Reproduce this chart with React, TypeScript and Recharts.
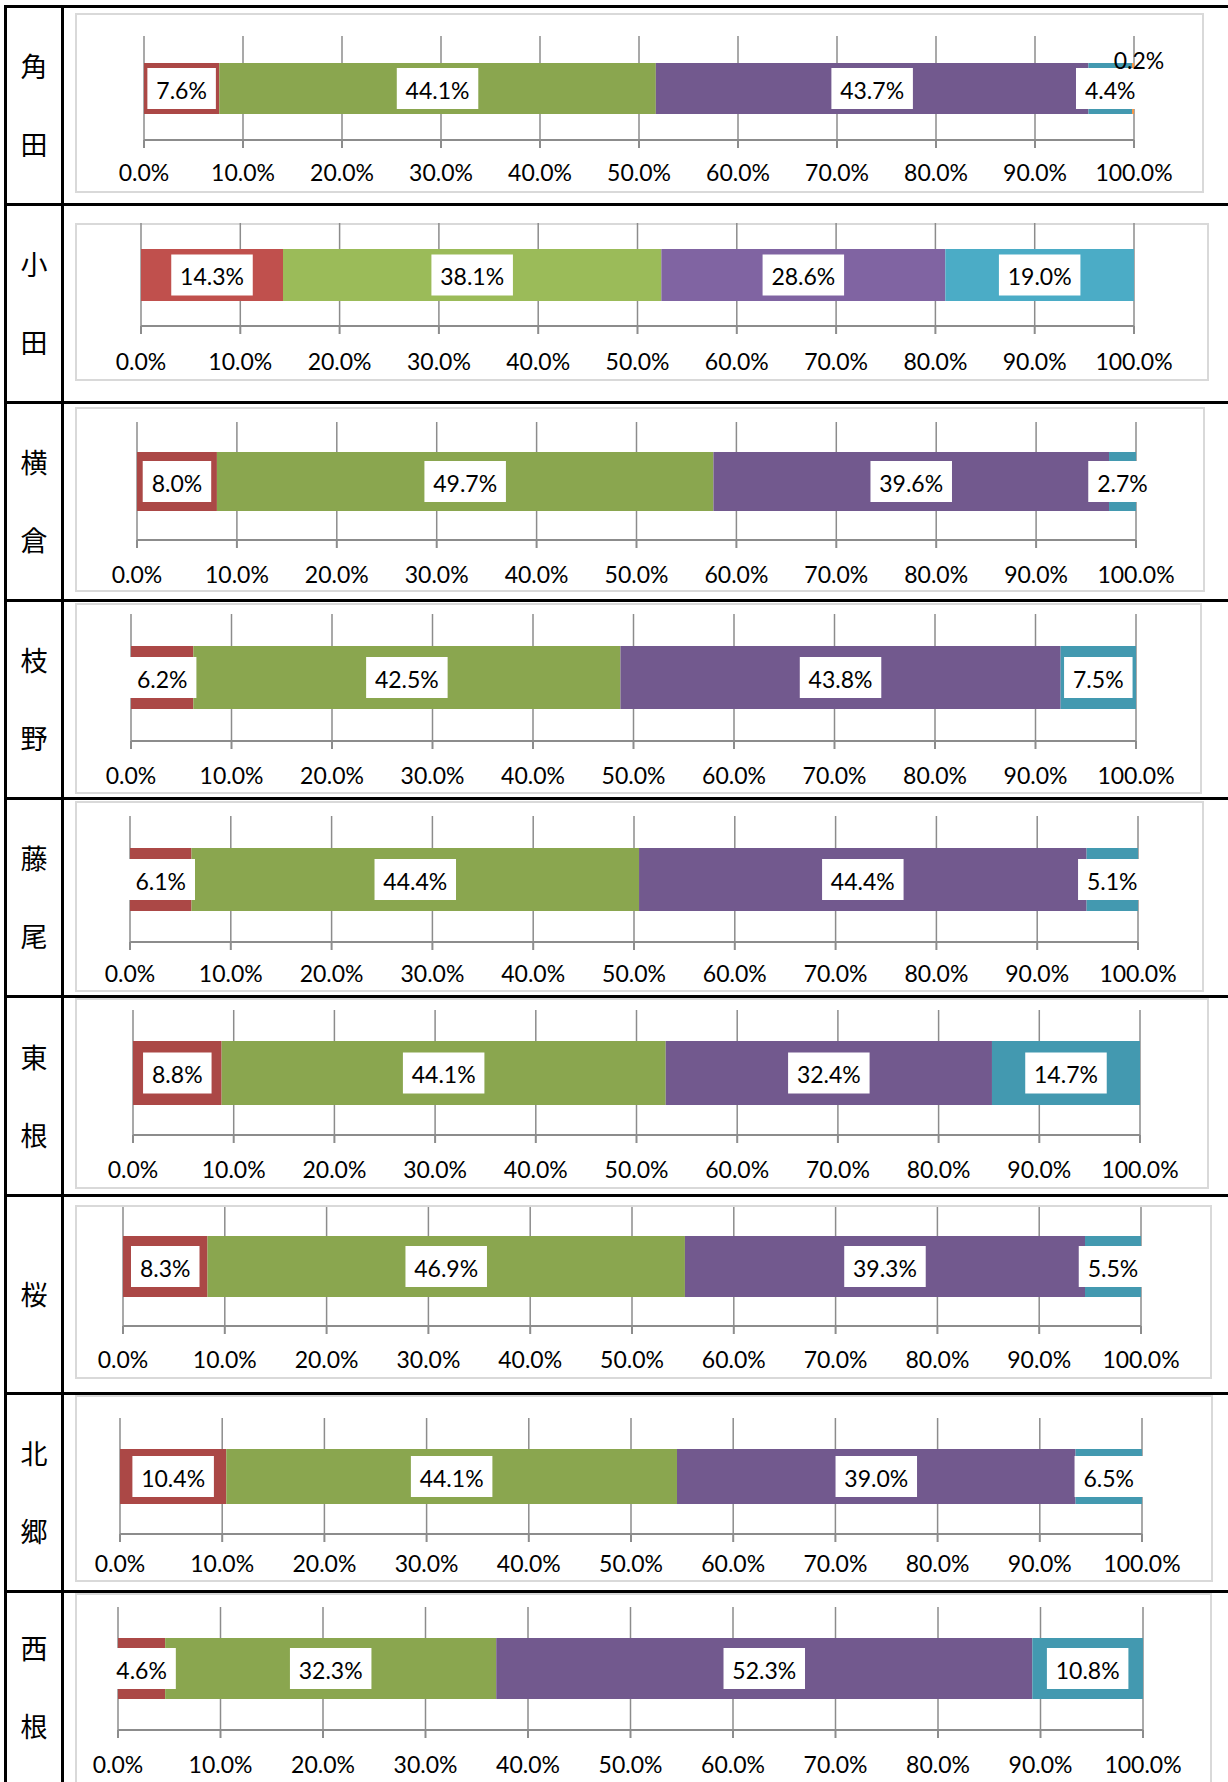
import { BarChart, Bar, XAxis, YAxis, CartesianGrid, LabelList } from 'recharts';

// regions (table rows, top to bottom)
const regions = ['角田', '小田', '横倉', '枝野', '藤尾', '東根', '桜', '北郷', '西根'];

// share of each answer group, percent
const seg1 = [7.6, 14.3, 8.0, 6.2, 6.1, 8.8, 8.3, 10.4, 4.6];
const seg2 = [44.1, 38.1, 49.7, 42.5, 44.4, 44.1, 46.9, 44.1, 32.3];
const seg3 = [43.7, 28.6, 39.6, 43.8, 44.4, 32.4, 39.3, 39.0, 52.3];
const seg4 = [4.4, 19.0, 2.7, 7.5, 5.1, 14.7, 5.5, 6.5, 10.8];
const seg5 = [0.2, 0, 0, 0, 0, 0, 0, 0, 0];

const xTicks = [0, 10, 20, 30, 40, 50, 60, 70, 80, 90, 100];

const darkColors = ['#AB4846', '#8AA64F', '#72598E', '#4399B0', '#F79646'];
const brightColors = ['#C0504D', '#9BBB59', '#8064A2', '#4BACC6', '#F79646'];

// page layout, in px
const rowLines = [6, 204, 402, 600, 798, 996, 1195, 1393, 1591];
const frames = [
  { fx0: 75, fy0: 13, fx1: 1204, fy1: 193, x0: 144, x100: 1134, grid: 36, axis: 140, bar: 51, lab: 173 },
  { fx0: 75, fy0: 223, fx1: 1209, fy1: 381, x0: 141, x100: 1134, grid: 223, axis: 326, bar: 52, lab: 362 },
  { fx0: 75, fy0: 407, fx1: 1205, fy1: 592, x0: 137, x100: 1136, grid: 422, axis: 540, bar: 59, lab: 575 },
  { fx0: 75, fy0: 603, fx1: 1202, fy1: 794, x0: 131, x100: 1136, grid: 614, axis: 741, bar: 63, lab: 776 },
  { fx0: 75, fy0: 801, fx1: 1204, fy1: 992, x0: 130, x100: 1138, grid: 816, axis: 942, bar: 63, lab: 974 },
  { fx0: 75, fy0: 998, fx1: 1209, fy1: 1189, x0: 133, x100: 1140, grid: 1010, axis: 1135, bar: 64, lab: 1170 },
  { fx0: 75, fy0: 1205, fx1: 1212, fy1: 1379, x0: 123, x100: 1141, grid: 1207, axis: 1326, bar: 61, lab: 1360 },
  { fx0: 75, fy0: 1395, fx1: 1213, fy1: 1582, x0: 120, x100: 1142, grid: 1418, axis: 1534, bar: 55, lab: 1564 },
  { fx0: 75, fy0: 1593, fx1: 1212, fy1: 1800, x0: 118, x100: 1143, grid: 1607, axis: 1730, bar: 61, lab: 1765 },
];

const FONT = 'Lato, "Noto Sans", sans-serif';
const AXIS_H = 40;

const fmt = (v: number) => v.toFixed(1) + '%';

const boxWidth = (s: string) => {
  let w = 18;
  for (const c of s) w += c === '.' ? 6.5 : c === '%' ? 18 : 13;
  return w;
};

const BoxLabel = (props: any) => {
  const vb = props.viewBox ?? props;
  const { x, y, width, height } = vb;
  const value = props.value;
  if (!value) return null;
  const text = fmt(Number(value));
  const cx = x + width / 2;
  const cy = y + height / 2;
  const bw = boxWidth(text);
  const bh = 41;
  return (
    <g>
      <rect x={cx - bw / 2} y={cy - bh / 2} width={bw} height={bh} fill="#fff" />
      <text x={cx} y={cy + 1} textAnchor="middle" dominantBaseline="central" fill="#000" fontSize={23} fontFamily={FONT}>
        {text}
      </text>
    </g>
  );
};

// tiny segment: label sits above the bar end, no box
const TopLabel = (props: any) => {
  const vb = props.viewBox ?? props;
  const { x, y, width } = vb;
  const value = props.value;
  if (!value) return null;
  return (
    <text x={x + width / 2 + 6} y={y - 3} textAnchor="middle" dominantBaseline="central" fill="#000" fontSize={23} fontFamily={FONT}>
      {fmt(Number(value))}
    </text>
  );
};

function RowChart({ i }: { i: number }) {
  const f = frames[i];
  const colors = i === 1 ? brightColors : darkColors;
  const data = [{ name: regions[i], s1: seg1[i], s2: seg2[i], s3: seg3[i], s4: seg4[i], s5: seg5[i] }];
  const w = f.fx1 - f.fx0;
  const h = f.fy1 - f.fy0;
  const margin = {
    left: f.x0 - f.fx0,
    right: f.fx1 - f.x100,
    top: f.grid - f.fy0,
    bottom: f.fy1 - f.axis - AXIS_H,
  };
  const keys = ['s1', 's2', 's3', 's4', 's5'];
  return (
    <div style={{ position: 'absolute', left: f.fx0, top: f.fy0, width: w, height: h }}>
      <div
        style={{
          position: 'absolute', left: 0, top: 0, width: w, height: h,
          border: '2px solid #D9D9D9', boxSizing: 'border-box', background: '#fff',
        }}
      />
      <div style={{ position: 'absolute', left: 0, top: 0 }}>
        <BarChart width={w} height={h} data={data} layout="vertical" margin={margin}>
          <CartesianGrid horizontal={false} vertical stroke="#8C8C8C" strokeWidth={1.5} />
          <XAxis
            type="number"
            domain={[0, 100]}
            ticks={xTicks}
            interval={0}
            allowDataOverflow
            height={AXIS_H}
            tickFormatter={fmt}
            axisLine={{ stroke: '#8C8C8C', strokeWidth: 2 }}
            tickLine={{ stroke: '#8C8C8C', strokeWidth: 2 }}
            tickSize={8}
            tickMargin={f.lab - f.axis - 16}
            tick={{ fill: '#000', fontSize: 23, fontFamily: FONT }}
          />
          <YAxis type="category" dataKey="name" hide />
          {keys.map((k, j) => (
            <Bar key={k} dataKey={k} stackId="a" fill={colors[j]} barSize={f.bar} isAnimationActive={false}>
              <LabelList dataKey={k} content={j === 4 ? <TopLabel /> : <BoxLabel />} />
            </Bar>
          ))}
        </BarChart>
      </div>
    </div>
  );
}

export default function App() {
  return (
    <div
      style={{
        position: 'absolute', left: 0, top: 0, width: 1228, height: 1782,
        overflow: 'hidden', background: '#fff',
      }}
    >
      {rowLines.map((y) => (
        <div key={y} style={{ position: 'absolute', left: 4, top: y - 1.5, width: 1224, height: 3, background: '#000' }} />
      ))}
      <div style={{ position: 'absolute', left: 4, top: 5, width: 3, height: 1777, background: '#000' }} />
      <div style={{ position: 'absolute', left: 61, top: 5, width: 3, height: 1777, background: '#000' }} />
      {regions.map((r, i) => {
        const top = rowLines[i];
        const bottom = i + 1 < rowLines.length ? rowLines[i + 1] : 1782;
        const mid = (top + bottom) / 2;
        const chars = Array.from(r);
        return chars.map((c, k) => {
          const cy = chars.length === 1 ? mid : mid + (k === 0 ? -39 : 39);
          return (
            <div
              key={r + k}
              style={{
                position: 'absolute', left: 7, width: 54, top: cy - 18, height: 36, lineHeight: '36px',
                textAlign: 'center', fontSize: 27, fontFamily: '"Noto Sans CJK JP", sans-serif', color: '#000',
              }}
            >
              {c}
            </div>
          );
        });
      })}
      {regions.map((r, i) => (
        <RowChart key={r} i={i} />
      ))}
    </div>
  );
}
